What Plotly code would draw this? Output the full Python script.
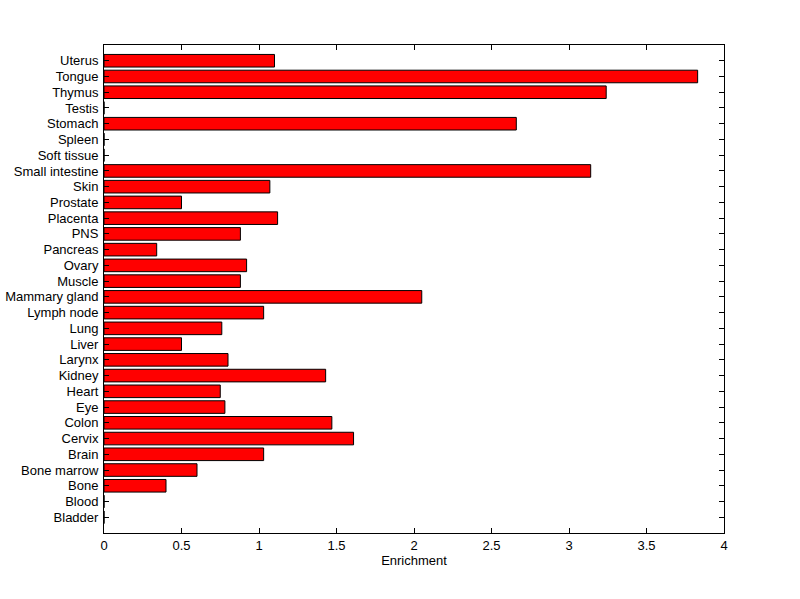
import plotly.graph_objects as go

categories = ["Bladder", "Blood", "Bone", "Bone marrow", "Brain", "Cervix", "Colon", "Eye",
              "Heart", "Kidney", "Larynx", "Liver", "Lung", "Lymph node", "Mammary gland",
              "Muscle", "Ovary", "Pancreas", "PNS", "Placenta", "Prostate", "Skin",
              "Small intestine", "Soft tissue", "Spleen", "Stomach", "Testis", "Thymus",
              "Tongue", "Uterus"]
enrichment = [0, 0, 0.40, 0.60, 1.03, 1.61, 1.47, 0.78,
              0.75, 1.43, 0.80, 0.50, 0.76, 1.03, 2.05,
              0.88, 0.92, 0.34, 0.88, 1.12, 0.50, 1.07,
              3.14, 0, 0, 2.66, 0, 3.24,
              3.83, 1.10]
x_ticks = [0, 0.5, 1, 1.5, 2, 2.5, 3, 3.5, 4]
x_tick_labels = ["0", "0.5", "1", "1.5", "2", "2.5", "3", "3.5", "4"]

FONT = "Liberation Sans, Arial, sans-serif"

fig = go.Figure(go.Bar(
    x=enrichment, y=categories, orientation="h", width=0.8,
    marker=dict(color="#FF0000", line=dict(color="black", width=1)),
))

axis_common = dict(showline=True, linecolor="black", linewidth=1, mirror="ticks",
                   ticks="inside", ticklen=5, tickcolor="black", showgrid=False,
                   zeroline=False, automargin=False,
                   tickfont=dict(family=FONT, size=13, color="black"))

fig.update_layout(
    width=800, height=599,
    margin=dict(l=104, r=76, t=45, b=66),
    paper_bgcolor="white", plot_bgcolor="white",
    showlegend=False,
    font=dict(family=FONT, size=13, color="black"),
    xaxis=dict(range=[0, 4], tickmode="array", tickvals=x_ticks, ticktext=x_tick_labels,
               title=dict(text="Enrichment", standoff=2,
                          font=dict(family=FONT, size=13, color="black")),
               **axis_common),
    yaxis=dict(type="category", categoryorder="array", categoryarray=categories,
               tickmode="array", tickvals=categories, ticktext=categories,
               range=[-1, 30], ticklabelstandoff=2, **axis_common),
    bargap=0.2,
)

fig.write_html("out.html", config={"displayModeBar": False},
               post_script="document.body.style.margin='0';document.body.style.overflow='hidden';")
